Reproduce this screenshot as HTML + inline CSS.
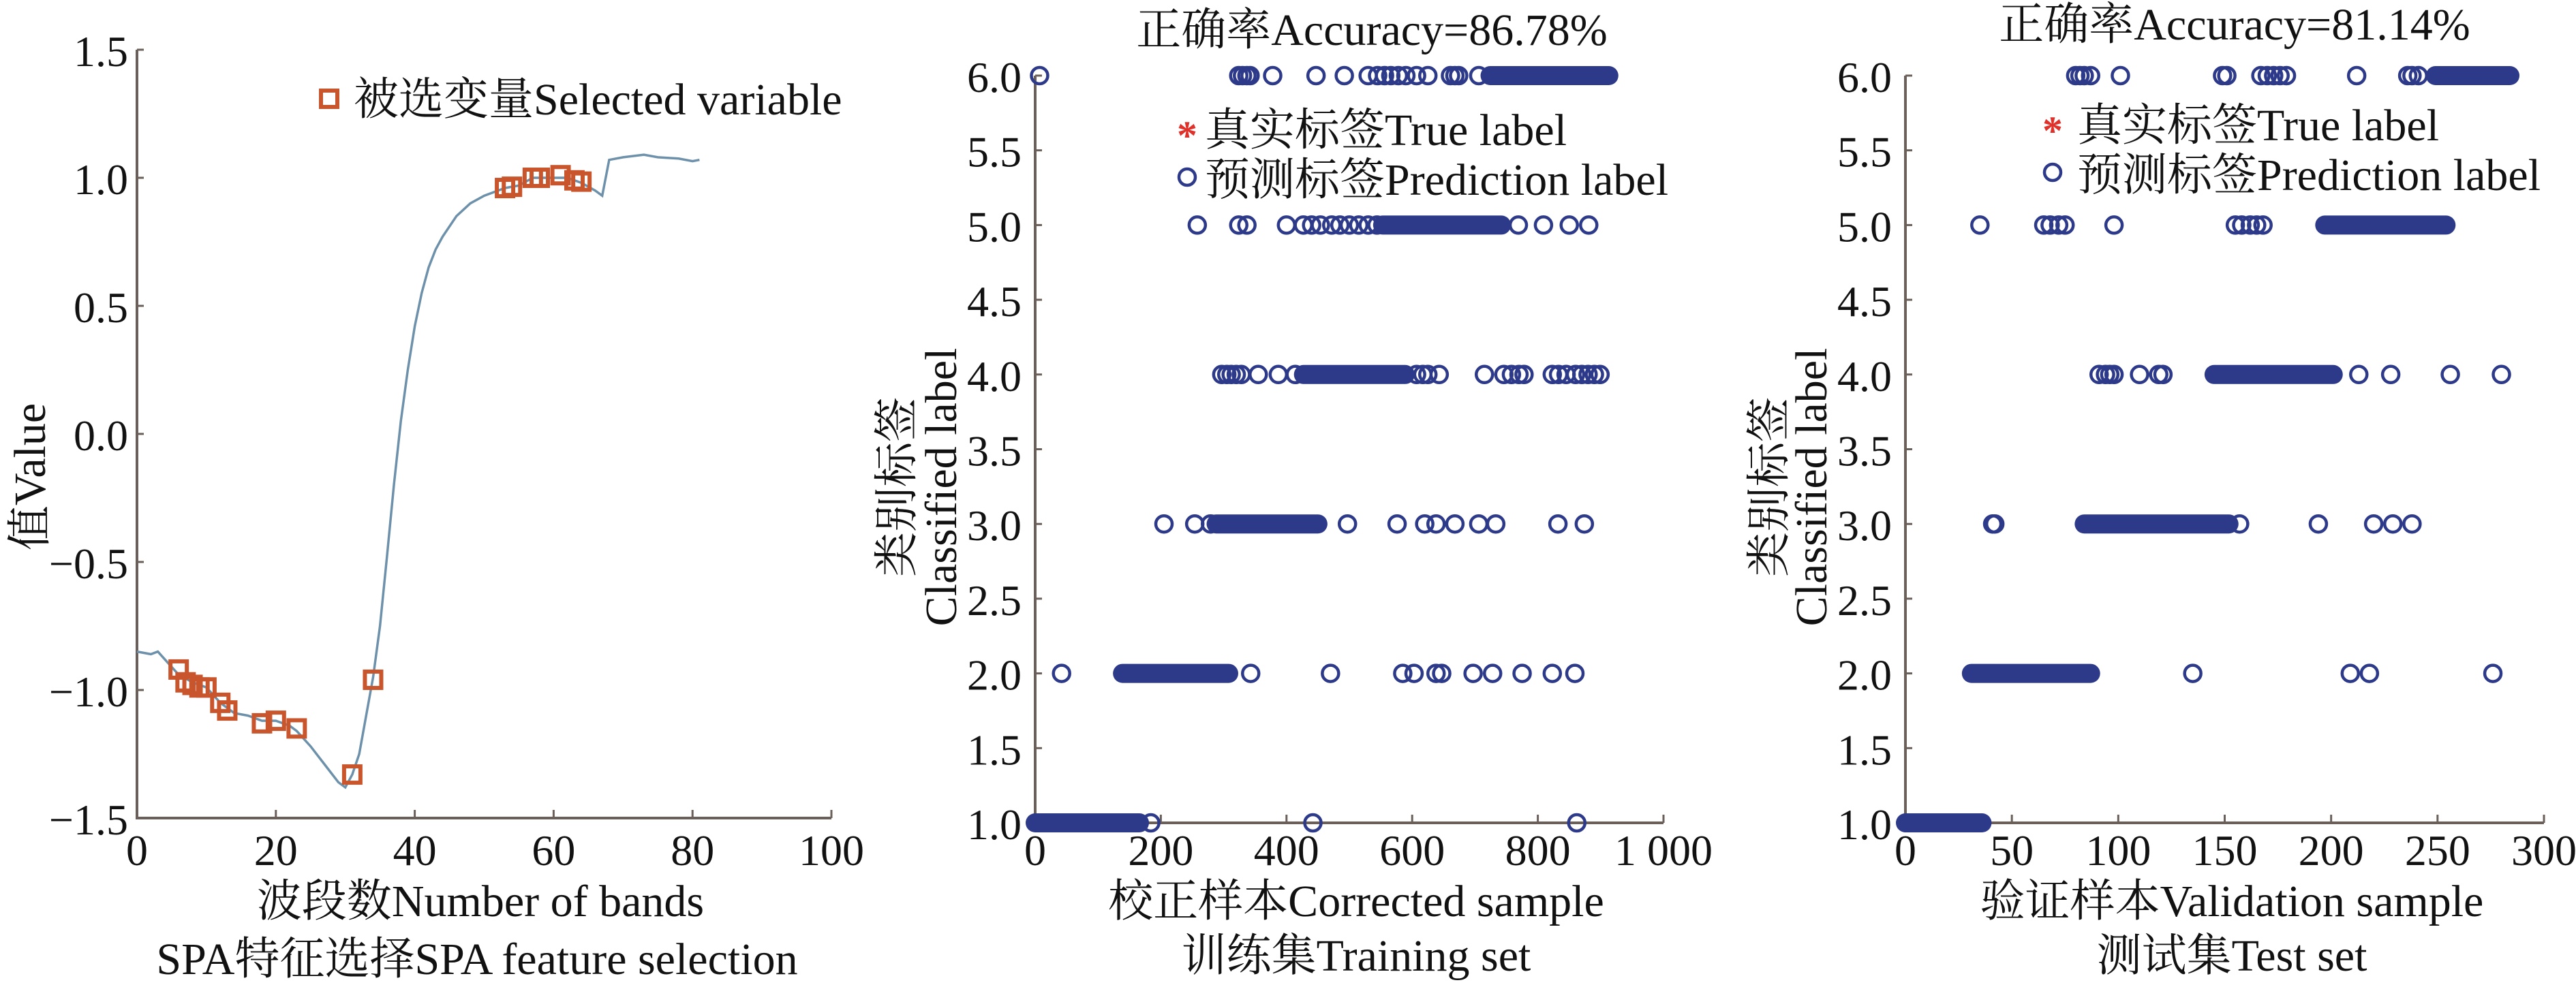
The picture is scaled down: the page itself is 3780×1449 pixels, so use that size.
<!DOCTYPE html>
<html><head><meta charset="utf-8"><style>
html,body{margin:0;padding:0;background:#fff;width:3780px;height:1449px;overflow:hidden}
svg{display:block}
text{font-family:"Liberation Serif","Noto Serif CJK SC",serif;fill:#111}
</style></head><body>
<svg id="s" width="3780" height="1449" xmlns="http://www.w3.org/2000/svg">
<g font-size="66">
<text x="705" y="1345" text-anchor="middle">波段数Number of bands</text>
<text x="700" y="1430" text-anchor="middle">SPA特征选择SPA feature selection</text>
<text transform="translate(66,700) rotate(-90)" text-anchor="middle">值Value</text>
<text x="519" y="168">被选变量Selected variable</text>
<text x="2013" y="66" text-anchor="middle">正确率Accuracy=86.78%</text>
<text x="1768" y="213">真实标签True label</text>
<text x="1768" y="286">预测标签Prediction label</text>
<text transform="translate(1338,715) rotate(-90)" text-anchor="middle">类别标签</text>
<text transform="translate(1403,715) rotate(-90)" text-anchor="middle">Classified label</text>
<text x="1990" y="1345" text-anchor="middle">校正样本Corrected sample</text>
<text x="1990" y="1425" text-anchor="middle">训练集Training set</text>
<text x="3279" y="58" text-anchor="middle">正确率Accuracy=81.14%</text>
<text x="3048" y="206">真实标签True label</text>
<text x="3048" y="279">预测标签Prediction label</text>
<text transform="translate(2618,715) rotate(-90)" text-anchor="middle">类别标签</text>
<text transform="translate(2680,715) rotate(-90)" text-anchor="middle">Classified label</text>
<text x="3275" y="1345" text-anchor="middle">验证样本Validation sample</text>
<text x="3275" y="1425" text-anchor="middle">测试集Test set</text>
</g>
<g id="dyn"></g>
</svg>
<script>
var g=document.getElementById("dyn"),h="";
var AX="#6b5f5a",NAV="#2d3a8a",OR="#c9552c";
function line(x1,y1,x2,y2,c,w){h+='<line x1="'+x1+'" y1="'+y1+'" x2="'+x2+'" y2="'+y2+'" stroke="'+c+'" stroke-width="'+w+'"/>';}
function txt(x,y,s,a){h+='<text x="'+x+'" y="'+y+'" font-size="64" text-anchor="'+a+'">'+s+'</text>';}
var X0=201,X1=1220,Y0=637,U=376;
function px1(x){return X0+x*(X1-X0)/100;} function py1(y){return Y0-y*U;}
line(X0,py1(1.5),X0,py1(-1.5)+2,AX,4);line(X0,py1(-1.5),X1,py1(-1.5),AX,4);
[1.5,1,0.5,0,-0.5,-1,-1.5].forEach(function(v){var y=py1(v);line(X0,y,X0+10,y,AX,3);
 txt(188,y+24,(v<0?"−":"")+Math.abs(v).toFixed(1),"end");});
[0,20,40,60,80,100].forEach(function(v){var x=px1(v);line(x,py1(-1.5),x,py1(-1.5)-12,AX,3);txt(x,1270,v,"middle");});
var cur=[[0,-0.85],[2,-0.86],[3,-0.85],[5,-0.91],[6,-0.94],[8,-0.97],[10,-0.99],[12,-1.05],[14,-1.09],[16,-1.1],[18,-1.12],[20,-1.12],[22,-1.14],[23,-1.16],[25,-1.22],[27,-1.29],[29,-1.36],[30,-1.38],[31,-1.33],[32,-1.25],[33,-1.1],[34,-0.95],[35,-0.75],[36,-0.48],[37,-0.2],[38,0.05],[39,0.25],[40,0.42],[41,0.55],[42,0.65],[43,0.72],[44,0.77],[46,0.85],[48,0.9],[50,0.93],[53,0.96],[55,0.97],[57,1.0],[60,1.0],[62,1.0],[64,0.98],[66,0.95],[67,0.93],[68,1.07],[70,1.08],[73,1.09],[75,1.08],[78,1.075],[80,1.065],[81,1.07]];
h+='<polyline fill="none" stroke="#6d91aa" stroke-width="3.5" points="'+cur.map(function(p){return px1(p[0]).toFixed(1)+","+py1(p[1]).toFixed(1)}).join(" ")+'"/>';
[[6,-0.92],[7,-0.97],[8,-0.98],[9,-0.99],[10,-0.99],[12,-1.05],[13,-1.08],[18,-1.13],[20,-1.12],[23,-1.15],[31,-1.33],[34,-0.96],[53,0.96],[54,0.965],[57,1.0],[58,1.0],[61,1.01],[63,0.99],[64,0.985]].forEach(function(p){
 h+='<rect x="'+(px1(p[0])-12)+'" y="'+(py1(p[1])-12)+'" width="24" height="24" fill="none" stroke="'+OR+'" stroke-width="6"/>';});
h+='<rect x="471" y="133" width="24" height="24" fill="none" stroke="'+OR+'" stroke-width="6"/>';
function panel(XA,XB,max,ticks,labfn,lblx,data){
 var YT=111,YB=1208;function py(v){return YB-(v-1)*(YB-YT)/5;}function px(v){return XA+v*(XB-XA)/max;}
 line(XA,YT,XA,YB,AX,4);line(XA,YB,XB,YB,AX,4);
 for(var v=1;v<=6.001;v+=0.5){var y=py(v);line(XA,y,XA+10,y,AX,3);txt(lblx,y+24,v.toFixed(1),"end");}
 ticks.forEach(function(t){var x=px(t);line(x,YB,x,YB-12,AX,3);txt(x,1270,labfn(t),"middle");});
 data.forEach(function(row){var y=py(row[0]);row[1].forEach(function(e){
  if(typeof e==="number"){h+='<circle cx="'+px(e)+'" cy="'+y+'" r="12" fill="none" stroke="'+NAV+'" stroke-width="4.5"/>';}
  else{var a=px(e[0]),b=px(e[1]);
   h+='<rect x="'+(a-14)+'" y="'+(y-14)+'" width="'+(b-a+28)+'" height="28" rx="14" fill="'+NAV+'"/>';}
 });});
}
panel(1519,2441,1000,[0,200,400,600,800,1000],function(t){return t==1000?"1 000":t},1499,[
 [6,[7,324,330,337,342,378,447,492,530,545,556,566,578,590,607,625,661,668,674,706,[724,913]]],
 [5,[258,324,337,400,427,440,454,472,485,500,515,530,544,[553,742],769,809,850,881]],
 [4,[297,305,312,320,328,355,387,414,[427,589],607,617,625,643,715,746,758,770,778,823,833,845,860,870,880,890,899]],
 [3,[205,254,279,[288,450],497,576,620,638,668,706,733,832,874]],
 [2,[42,[139,308],343,470,585,603,638,647,697,728,775,823,859]],
 [1,[[0,166],184,442,862]]
]);
panel(2796,3733,300,[0,50,100,150,200,250,300],function(t){return t},2776,[
 [6,[80,82,84,87,101,149,151,167,170,173,176,179,212,236,238,241,[249,284]]],
 [5,[35,65,68,72,75,98,155,158,162,165,168,[197,254]]],
 [4,[91,94,96,98,110,119,121,[145,201],213,228,256,280]],
 [3,[41,42,[84,152],157,194,220,229,238]],
 [2,[[31,87],135,209,218,276]],
 [1,[[0,36]]]
]);
function star(x,y){h+='<text x="'+x+'" y="'+(y+26)+'" font-size="60" text-anchor="middle" style="fill:#e0302a" font-weight="bold">*</text>';}
star(1742,193);star(3012,186);
h+='<circle cx="1742" cy="260" r="12" fill="none" stroke="'+NAV+'" stroke-width="4.5"/>';
h+='<circle cx="3012" cy="253" r="12" fill="none" stroke="'+NAV+'" stroke-width="4.5"/>';
g.innerHTML=h;
</script>
</body></html>
